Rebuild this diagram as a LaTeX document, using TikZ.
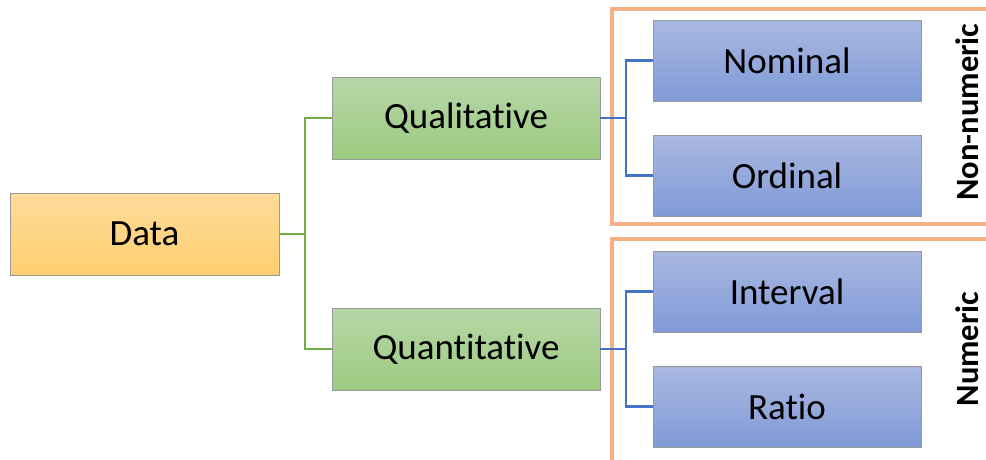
\documentclass[tikz,border=0pt]{standalone}
\usepackage{fontspec}
\setmainfont{Carlito}[Ligatures=NoCommon]
\begin{document}
\begin{tikzpicture}[x=1pt,y=-1pt,
  box/.style={draw=gray!80,line width=0.8pt,minimum width=268pt,minimum height=81pt,inner sep=0pt,font=\fontsize{37}{42}\selectfont},
  orangebox/.style={box,top color=orangetop,bottom color=orangebot},
  greenbox/.style={box,top color=greentop,bottom color=greenbot},
  bluebox/.style={box,top color=bluetop,bottom color=bluebot},
  gline/.style={draw=linegreen,line width=2.5pt},
  bline/.style={draw=lineblue,line width=2.5pt},
  frame/.style={draw=frameorange,line width=3.2pt},
  sidelabel/.style={rotate=90,font=\fontsize{32.5}{36}\selectfont\bfseries,inner sep=0pt}]
\definecolor{orangetop}{RGB}{254,219,155}
\definecolor{orangebot}{RGB}{254,207,110}
\definecolor{greentop}{RGB}{183,214,168}
\definecolor{greenbot}{RGB}{157,203,128}
\definecolor{bluetop}{RGB}{170,184,225}
\definecolor{bluebot}{RGB}{128,154,215}
\definecolor{linegreen}{RGB}{112,173,71}
\definecolor{lineblue}{RGB}{68,114,196}
\definecolor{frameorange}{RGB}{244,177,131}
\useasboundingbox (0,0) rectangle (986,459);
% frames
\draw[frame] (986,9) -- (612,9) -- (612,224) -- (986,224);
\draw[frame] (986,239) -- (612,239) -- (612,461);
% nodes
\node[orangebox,minimum width=269pt,minimum height=82pt] (data) at (144.5,234) {Data};
\node[greenbox,minimum height=82pt] (qual) at (466,118) {Qualitative};
\node[greenbox,minimum height=82pt] (quant) at (466,349) {Quantitative};
\node[bluebox] (nom) at (787,60.5) {Nominal};
\node[bluebox] (ord) at (787,175.5) {Ordinal};
\node[bluebox] (int) at (787,291.5) {Interval};
\node[bluebox] (rat) at (787,406.5) {Ratio};
\node[sidelabel] (nonnum) at (967,112) {Non-numeric};
\node[sidelabel] (numer) at (967,349) {Numeric};
% connectors
\coordinate (trunk) at (305,234);
\draw[gline] (data.east) -- (trunk) |- (qual.west);
\draw[gline] (trunk) |- (quant.west);
\coordinate (b1) at (626,118);
\coordinate (b2) at (626,349);
\draw[bline] (qual.east) -- (b1);
\draw[bline] (nom.west) -| (b1) |- (ord.west);
\draw[bline] (quant.east) -- (b2);
\draw[bline] (int.west) -| (b2) |- (rat.west);
\end{tikzpicture}
\end{document}
